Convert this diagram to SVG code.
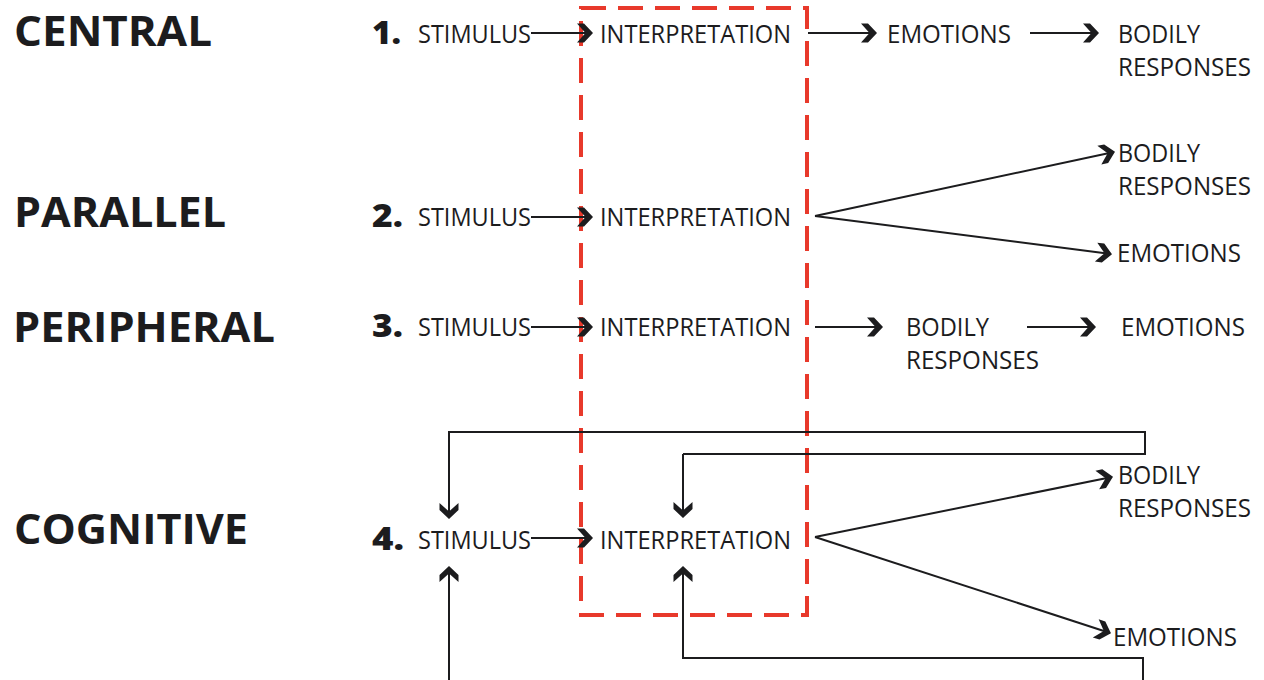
<svg xmlns="http://www.w3.org/2000/svg" width="1264" height="680" viewBox="0 0 1264 680">
<style>
.h{font-family:"Open Sans","Noto Sans",sans-serif;font-weight:700;font-size:42px;fill:#1c1c1e}
.n{font-family:"Open Sans","Noto Sans",sans-serif;font-weight:800;font-size:31px;fill:#1c1c1e}
.t{font-family:"Open Sans","Noto Sans",sans-serif;font-weight:400;font-size:25px;fill:#1c1c1e}
.c{fill:none;stroke:#1c1c1e;stroke-width:2}
.r{fill:none;stroke:#e8392b;stroke-width:4;stroke-dasharray:25 12}
</style>
<defs>
<marker id="ch" viewBox="-15 -12 20 24" markerWidth="20" markerHeight="24" refX="3" refY="0" orient="auto" markerUnits="userSpaceOnUse">
<path d="M-12,-9.5 L-5,-9.5 L4,0 L-5,9.5 L-12,9.5 L-3.5,0 Z" fill="#1c1c1e"/>
</marker>
</defs>
<rect width="1264" height="680" fill="#fff"/>
<g id="frame"><rect class="r" x="581" y="8" width="226" height="607"/></g>
<g id="headings">
<text class="h" x="14" y="46" textLength="198" lengthAdjust="spacingAndGlyphs">CENTRAL</text>
<text class="h" x="14" y="227" textLength="212" lengthAdjust="spacingAndGlyphs">PARALLEL</text>
<text class="h" x="13" y="342" textLength="262" lengthAdjust="spacingAndGlyphs">PERIPHERAL</text>
<text class="h" x="14" y="544" textLength="234" lengthAdjust="spacingAndGlyphs">COGNITIVE</text>
</g>
<g id="row1">
<text class="n" x="372" y="44" textLength="29" lengthAdjust="spacingAndGlyphs">1.</text>
<text class="t" x="418" y="43" textLength="113" lengthAdjust="spacingAndGlyphs">STIMULUS</text>
<text class="t" x="600" y="43" textLength="191" lengthAdjust="spacingAndGlyphs">INTERPRETATION</text>
<text class="t" x="887" y="43" textLength="124" lengthAdjust="spacingAndGlyphs">EMOTIONS</text>
<text class="t" x="1118" y="43" textLength="82" lengthAdjust="spacingAndGlyphs">BODILY</text>
<text class="t" x="1118" y="76" textLength="133" lengthAdjust="spacingAndGlyphs">RESPONSES</text>
</g>
<g id="row2">
<text class="n" x="372" y="227" textLength="31" lengthAdjust="spacingAndGlyphs">2.</text>
<text class="t" x="418" y="226" textLength="113" lengthAdjust="spacingAndGlyphs">STIMULUS</text>
<text class="t" x="600" y="226" textLength="191" lengthAdjust="spacingAndGlyphs">INTERPRETATION</text>
<text class="t" x="1118" y="162" textLength="82" lengthAdjust="spacingAndGlyphs">BODILY</text>
<text class="t" x="1118" y="195" textLength="133" lengthAdjust="spacingAndGlyphs">RESPONSES</text>
<text class="t" x="1117" y="262" textLength="124" lengthAdjust="spacingAndGlyphs">EMOTIONS</text>
</g>
<g id="row3">
<text class="n" x="372" y="337" textLength="31" lengthAdjust="spacingAndGlyphs">3.</text>
<text class="t" x="418" y="336" textLength="113" lengthAdjust="spacingAndGlyphs">STIMULUS</text>
<text class="t" x="600" y="336" textLength="191" lengthAdjust="spacingAndGlyphs">INTERPRETATION</text>
<text class="t" x="906" y="336" textLength="83" lengthAdjust="spacingAndGlyphs">BODILY</text>
<text class="t" x="906" y="369" textLength="133" lengthAdjust="spacingAndGlyphs">RESPONSES</text>
<text class="t" x="1121" y="336" textLength="124" lengthAdjust="spacingAndGlyphs">EMOTIONS</text>
</g>
<g id="row4">
<text class="n" x="372" y="550" textLength="32" lengthAdjust="spacingAndGlyphs">4.</text>
<text class="t" x="418" y="549" textLength="113" lengthAdjust="spacingAndGlyphs">STIMULUS</text>
<text class="t" x="600" y="549" textLength="191" lengthAdjust="spacingAndGlyphs">INTERPRETATION</text>
<text class="t" x="1118" y="484" textLength="82" lengthAdjust="spacingAndGlyphs">BODILY</text>
<text class="t" x="1118" y="517" textLength="133" lengthAdjust="spacingAndGlyphs">RESPONSES</text>
<text class="t" x="1113" y="646" textLength="124" lengthAdjust="spacingAndGlyphs">EMOTIONS</text>
</g>
<g id="connectors">
<line class="c" x1="531" y1="33" x2="592" y2="33" marker-end="url(#ch)"/>
<line class="c" x1="808" y1="33" x2="876" y2="33" marker-end="url(#ch)"/>
<line class="c" x1="1030" y1="33" x2="1098" y2="33" marker-end="url(#ch)"/>
<line class="c" x1="531" y1="217" x2="592" y2="217" marker-end="url(#ch)"/>
<line class="c" x1="815" y1="216" x2="1114" y2="152" marker-end="url(#ch)"/>
<line class="c" x1="815" y1="216" x2="1111" y2="254" marker-end="url(#ch)"/>
<line class="c" x1="531" y1="327" x2="592" y2="327" marker-end="url(#ch)"/>
<line class="c" x1="815" y1="327" x2="882" y2="327" marker-end="url(#ch)"/>
<line class="c" x1="1027" y1="327" x2="1095" y2="327" marker-end="url(#ch)"/>
<line class="c" x1="531" y1="538" x2="592" y2="538" marker-end="url(#ch)"/>
<line class="c" x1="815" y1="537" x2="1112" y2="477" marker-end="url(#ch)"/>
<line class="c" x1="815" y1="537" x2="1110" y2="633" marker-end="url(#ch)"/>
<path class="c" d="M683,454 L1145,454 L1145,432 L449,432 L449,518" marker-end="url(#ch)"/>
<line class="c" x1="683" y1="454" x2="683" y2="517" marker-end="url(#ch)"/>
<line class="c" x1="449" y1="690" x2="449" y2="567" marker-end="url(#ch)"/>
<path class="c" d="M1143,690 L1143,658 L683,658 L683,567" marker-end="url(#ch)"/>
</g>
</svg>
